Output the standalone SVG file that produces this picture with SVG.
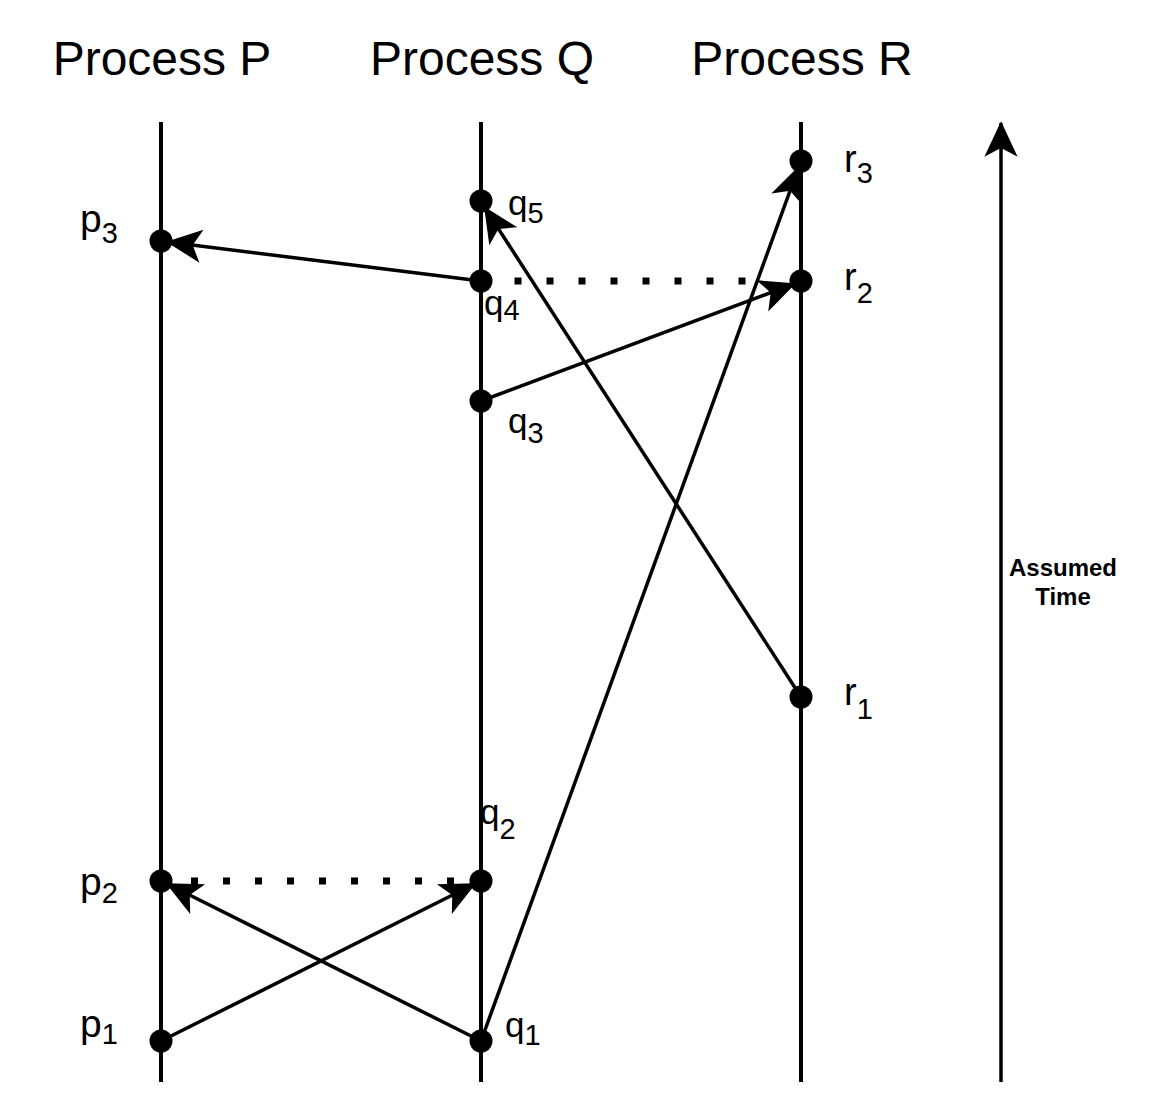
<svg xmlns="http://www.w3.org/2000/svg" width="1164" height="1116" viewBox="0 0 1164 1116">
<style>
  .title { font-family: "Liberation Sans", Arial, sans-serif; font-size: 48px; fill: #000; text-anchor: middle; }
  .lbl { font-family: "Liberation Sans", Arial, sans-serif; font-size: 35px; fill: #000; }
  .rlbl { font-family: "Liberation Sans", Arial, sans-serif; font-size: 38px; fill: #000; }
  .plbl { font-family: "Liberation Sans", Arial, sans-serif; font-size: 39px; fill: #000; }
  .sub { font-size: 29px; }
  .axis { font-family: "Liberation Sans", Arial, sans-serif; font-size: 24px; font-weight: bold; fill: #000; text-anchor: middle; }
  .life { stroke: #000; stroke-width: 4; fill: none; }
  .msg { stroke: #000; stroke-width: 3.5; fill: none; marker-end: url(#arr); }
  .dots { stroke: #000; stroke-width: 7; stroke-dasharray: 7 25; fill: none; }
  .ev { fill: #000; }
</style>
<defs>
  <marker id="arr" markerUnits="userSpaceOnUse" markerWidth="60" markerHeight="60" refX="0" refY="0" viewBox="-40 -30 60 60" orient="auto" overflow="visible">
    <path d="M0,0 L-32,-15 L-24,0 L-32,15 Z" fill="#000" stroke="#000" stroke-width="1.5" stroke-linejoin="miter"/>
  </marker>
</defs>

<g id="titles">
  <text class="title" x="162" y="75">Process P</text>
  <text class="title" x="482" y="75">Process Q</text>
  <text class="title" x="802" y="75">Process R</text>
</g>

<g id="lifelines">
  <line class="life" x1="161" y1="122" x2="161" y2="1082"/>
  <line class="life" x1="481" y1="122" x2="481" y2="1082"/>
  <line class="life" x1="801" y1="122" x2="801" y2="1082"/>
</g>

<g id="time-axis">
  <line class="msg" x1="1001" y1="1082" x2="1001" y2="123"/>
  <text class="axis" x="1063" y="576">Assumed</text>
  <text class="axis" x="1063" y="605">Time</text>
</g>

<g id="connectors">
  <line class="dots" x1="514.5" y1="281" x2="746" y2="281"/>
  <line class="dots" x1="191" y1="881" x2="455" y2="881"/>
  <line class="msg" x1="481" y1="281" x2="168" y2="242"/>
  <line class="msg" x1="801" y1="697" x2="485" y2="208"/>
  <line class="msg" x1="481" y1="401" x2="794" y2="284"/>
  <line class="msg" x1="481" y1="1041" x2="798.5" y2="167.5"/>
  <line class="msg" x1="161" y1="1041" x2="474.5" y2="884"/>
  <line class="msg" x1="481" y1="1041" x2="167.5" y2="884"/>
</g>

<g id="p1"><circle class="ev" cx="161" cy="1041" r="11.5"/><text class="plbl" x="80" y="1037">p<tspan class="sub" dy="7">1</tspan></text></g>
<g id="p2"><circle class="ev" cx="161" cy="881" r="11.5"/><text class="plbl" x="80" y="895">p<tspan class="sub" dy="8">2</tspan></text></g>
<g id="p3"><circle class="ev" cx="161" cy="241" r="11.5"/><text class="plbl" x="80" y="232">p<tspan class="sub" dy="11">3</tspan></text></g>

<g id="q1"><circle class="ev" cx="481" cy="1041" r="11.5"/><text class="lbl" x="505" y="1037">q<tspan class="sub" dy="8">1</tspan></text></g>
<g id="q2"><circle class="ev" cx="481" cy="881" r="11.5"/><text class="lbl" x="480" y="824">q<tspan class="sub" dy="15">2</tspan></text></g>
<g id="q3"><circle class="ev" cx="481" cy="401" r="11.5"/><text class="lbl" x="508" y="433">q<tspan class="sub" dy="10">3</tspan></text></g>
<g id="q4"><circle class="ev" cx="481" cy="281" r="11.5"/><text class="lbl" x="484" y="315">q<tspan class="sub" dy="5">4</tspan></text></g>
<g id="q5"><circle class="ev" cx="481" cy="201" r="11.5"/><text class="lbl" x="508" y="215">q<tspan class="sub" dy="8">5</tspan></text></g>

<g id="r1"><circle class="ev" cx="801" cy="697" r="11.5"/><text class="rlbl" x="844" y="705">r<tspan class="sub" dy="14">1</tspan></text></g>
<g id="r2"><circle class="ev" cx="801" cy="281" r="11.5"/><text class="rlbl" x="844" y="290">r<tspan class="sub" dy="13">2</tspan></text></g>
<g id="r3"><circle class="ev" cx="801" cy="161" r="11.5"/><text class="rlbl" x="844" y="172">r<tspan class="sub" dy="11">3</tspan></text></g>
</svg>
